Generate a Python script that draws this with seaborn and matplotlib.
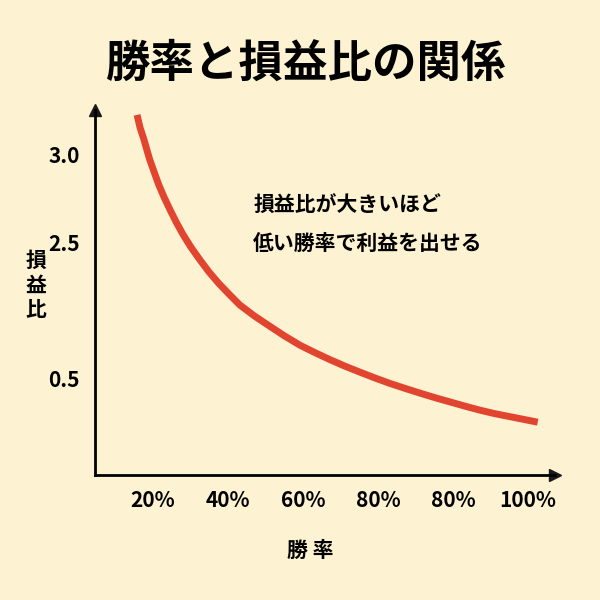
import matplotlib
matplotlib.use("Agg")
import matplotlib.pyplot as plt
import seaborn as sns
import pandas as pd

# tick labels as printed in the reference (x positions 1..6, y positions linear)
x_labels = ["20%", "40%", "60%", "80%", "80%", "100%"]
y_tick_pos = [3.0, 2.5, 1.733]
y_labels = ["3.0", "2.5", "0.5"]

# curve (x in tick units, y in axis units)
curve_x = [0.79, 0.83, 0.88, 0.92, 0.96, 1.02, 1.08, 1.15, 1.23, 1.31, 1.40, 1.51, 1.63, 1.75, 1.88, 2.02, 2.16, 2.35, 2.55, 2.75,
           2.96, 3.16, 3.36, 3.56, 3.76, 3.96, 4.16, 4.36, 4.56, 4.76, 4.96, 5.16, 5.36, 5.55, 5.75, 5.94, 6.13]
curve_y = [3.227, 3.155, 3.09, 3.03, 2.972, 2.90, 2.83, 2.76, 2.688, 2.62, 2.55, 2.475, 2.403, 2.335, 2.27, 2.208, 2.148, 2.087, 2.03, 1.974,
           1.920, 1.878, 1.838, 1.801, 1.767, 1.734, 1.703, 1.675, 1.648, 1.622, 1.598, 1.574, 1.551, 1.532, 1.515, 1.499, 1.483]

sns.set_theme(style="white")
plt.rcParams['font.family'] = ['Noto Sans CJK JP', 'DejaVu Sans']
plt.rcParams['text.color'] = 'black'
plt.rcParams['xtick.color'] = 'black'
plt.rcParams['ytick.color'] = 'black'
bg = "#fdf3d2"

fig = plt.figure(figsize=(6, 6), dpi=100, facecolor=bg)
ax = fig.add_axes([0.158, 0.208, 0.767, 0.609])
ax.set_facecolor(bg)
df = pd.DataFrame({"x": curve_x, "y": curve_y})
sns.lineplot(data=df, x="x", y="y", ax=ax, color="#e2452f", linewidth=5, solid_capstyle="butt")

ax.set_xlim(0.227, 6.36)
ax.set_ylim(1.182, 3.256)
ax.set_xticks(range(1, 7))
ax.set_xticklabels(x_labels, fontsize=15, fontweight="bold")
ax.set_yticks(y_tick_pos)
ax.set_yticklabels(y_labels, fontsize=15, fontweight="bold")
ax.tick_params(axis="both", length=6, width=1.8, color="black", direction="inout", pad=8)
ax.set_xlabel("")
ax.set_ylabel("")
for s in ["top", "right"]:
    ax.spines[s].set_visible(False)
for s in ["left", "bottom"]:
    ax.spines[s].set_color("black")
    ax.spines[s].set_linewidth(2)
ax.plot(1, 0, ">k", transform=ax.transAxes, clip_on=False, markersize=9)
ax.plot(0, 1, "^k", transform=ax.transAxes, clip_on=False, markersize=9)

fig.text(0.51, 0.893, "勝率と損益比の関係", ha="center", va="center", fontsize=32, fontweight="bold")
fig.text(0.422, 0.658, "損益比が大きいほど", fontsize=15, fontweight="bold", va="center")
fig.text(0.422, 0.595, "低い勝率で利益を出せる", fontsize=15, fontweight="bold", va="center")
fig.text(0.06, 0.525, "損\n益\n比", fontsize=15, fontweight="bold", ha="center", va="center", linespacing=1.2)
fig.text(0.517, 0.083, "勝 率", fontsize=15, fontweight="bold", ha="center", va="center")

fig.savefig("out.png", dpi=100, facecolor=bg)
